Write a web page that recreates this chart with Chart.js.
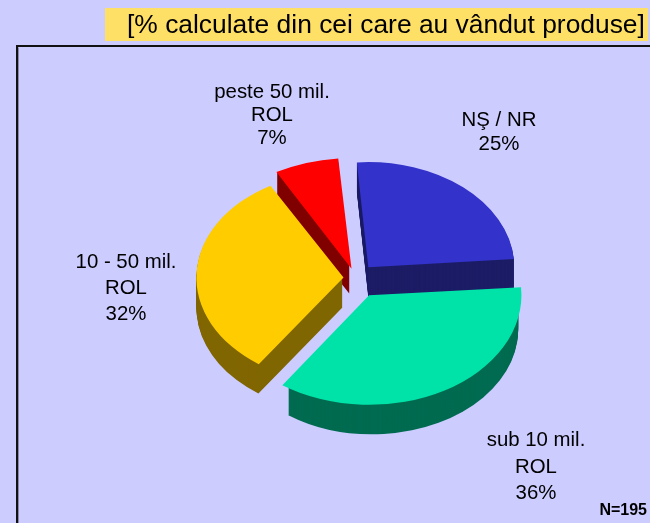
<!DOCTYPE html>
<html>
<head>
<meta charset="utf-8">
<script src="https://cdn.jsdelivr.net/npm/chart.js@4/dist/chart.umd.min.js"></script>
<style>
  html, body { margin: 0; padding: 0; background: #CCCCFF; }
  #wrap { width: 650px; height: 523px; }
</style>
</head>
<body>
<div id="wrap"><canvas id="c" width="650" height="523"></canvas></div>
<script>
// ---- data ----
const categories = ['NŞ / NR', 'sub 10 mil. ROL', '10 - 50 mil. ROL', 'peste 50 mil. ROL'];
const labelLines = [['NŞ / NR'], ['sub 10 mil.', 'ROL'], ['10 - 50 mil.', 'ROL'], ['peste 50 mil.', 'ROL']];
const shares = [25, 36, 32, 7];
const titleText = '[% calculate din cei care au vândut produse]';
const noteText = 'N=195';

// ---- style ----
const topColors = ['#3333CC', '#00E3A8', '#FFCC00', '#FF0000'];
const sideColors = ['#1C1C66', '#006B50', '#806600', '#800000'];
const FONT = '"Liberation Sans", Arial, sans-serif';
const TILT = 0.72;
const DEPTH = 30;

function arcShift(arc) {
  const off = (arc.options.offset || 0) / 4;
  const circ = arc.endAngle - arc.startAngle;
  const fix = 1 - Math.sin(Math.min(Math.PI, circ));
  const t = off * (1 + fix);
  const mid = (arc.startAngle + arc.endAngle) / 2;
  return { dx: Math.cos(mid) * t, dy: Math.sin(mid) * t };
}

const pie3d = {
  id: 'pie3d',
  beforeDraw(chart) {
    const ctx = chart.ctx;
    ctx.save();
    ctx.fillStyle = '#CCCCFF';
    ctx.fillRect(0, 0, chart.width, chart.height);
    // plot frame
    ctx.strokeStyle = '#111111';
    ctx.lineWidth = 2;
    ctx.beginPath();
    ctx.moveTo(17, chart.height + 5);
    ctx.lineTo(17, 46);
    ctx.lineTo(chart.width + 5, 46);
    ctx.stroke();
    ctx.strokeStyle = '#8888AA';
    ctx.lineWidth = 1;
    ctx.beginPath();
    ctx.moveTo(18.5, chart.height + 5);
    ctx.lineTo(18.5, 47.5);
    ctx.stroke();
    // title box
    ctx.fillStyle = '#FFE066';
    ctx.fillRect(105, 8, 543, 33);
    ctx.fillStyle = '#000000';
    ctx.font = '26.4px ' + FONT;
    ctx.textBaseline = 'alphabetic';
    ctx.textAlign = 'left';
    ctx.fillText(titleText, 127, 33);
    ctx.restore();
  },
  beforeDatasetsDraw(chart) {
    const ctx = chart.ctx;
    const arcs = chart.getDatasetMeta(0).data;
    const cx = arcs[0].x, cy = arcs[0].y;
    ctx.save();
    ctx.translate(cx, cy);
    ctx.scale(1, TILT);
    ctx.translate(-cx, -cy);
    for (let d = DEPTH; d >= 1; d--) {
      arcs.forEach((arc, i) => {
        const s = arcShift(arc);
        const ox = arc.x + s.dx;
        const oy = arc.y + s.dy + d / TILT;
        ctx.fillStyle = sideColors[i];
        ctx.beginPath();
        ctx.moveTo(ox, oy);
        ctx.arc(ox, oy, arc.outerRadius, arc.startAngle, arc.endAngle);
        ctx.closePath();
        ctx.fill();
      });
    }
  },
  afterDatasetsDraw(chart) {
    chart.ctx.restore();
  },
  afterDraw(chart, args, opts) {
    const ctx = chart.ctx;
    ctx.save();
    ctx.fillStyle = '#000000';
    ctx.textAlign = 'center';
    ctx.textBaseline = 'alphabetic';
    ctx.font = '20.4px ' + FONT;
    opts.anchors.forEach((a, i) => {
      const lines = labelLines[i].concat([shares[i] + '%']);
      lines.forEach((ln, j) => ctx.fillText(ln, a[0], a[1] + j * a[2]));
    });
    ctx.font = 'bold 16px ' + FONT;
    ctx.textAlign = 'right';
    ctx.fillText(noteText, 647, 515);
    ctx.restore();
  }
};

new Chart(document.getElementById('c'), {
  type: 'pie',
  data: {
    labels: categories,
    datasets: [{
      data: shares,
      backgroundColor: topColors,
      borderWidth: 0,
      offset: [79, 110, 48, 54],
      clip: false
    }]
  },
  options: {
    responsive: false,
    devicePixelRatio: 1,
    animation: false,
    rotation: -4.5,
    radius: 146,
    layout: { padding: { left: 61, right: 0, top: 33, bottom: 0 } },
    events: [],
    plugins: {
      legend: { display: false },
      tooltip: { enabled: false },
      title: { display: false },
      pie3d: {
        anchors: [[499, 126, 24], [536, 446, 26.5], [126, 268, 26], [272, 98, 23]]
      }
    }
  },
  plugins: [pie3d]
});
</script>
</body>
</html>
